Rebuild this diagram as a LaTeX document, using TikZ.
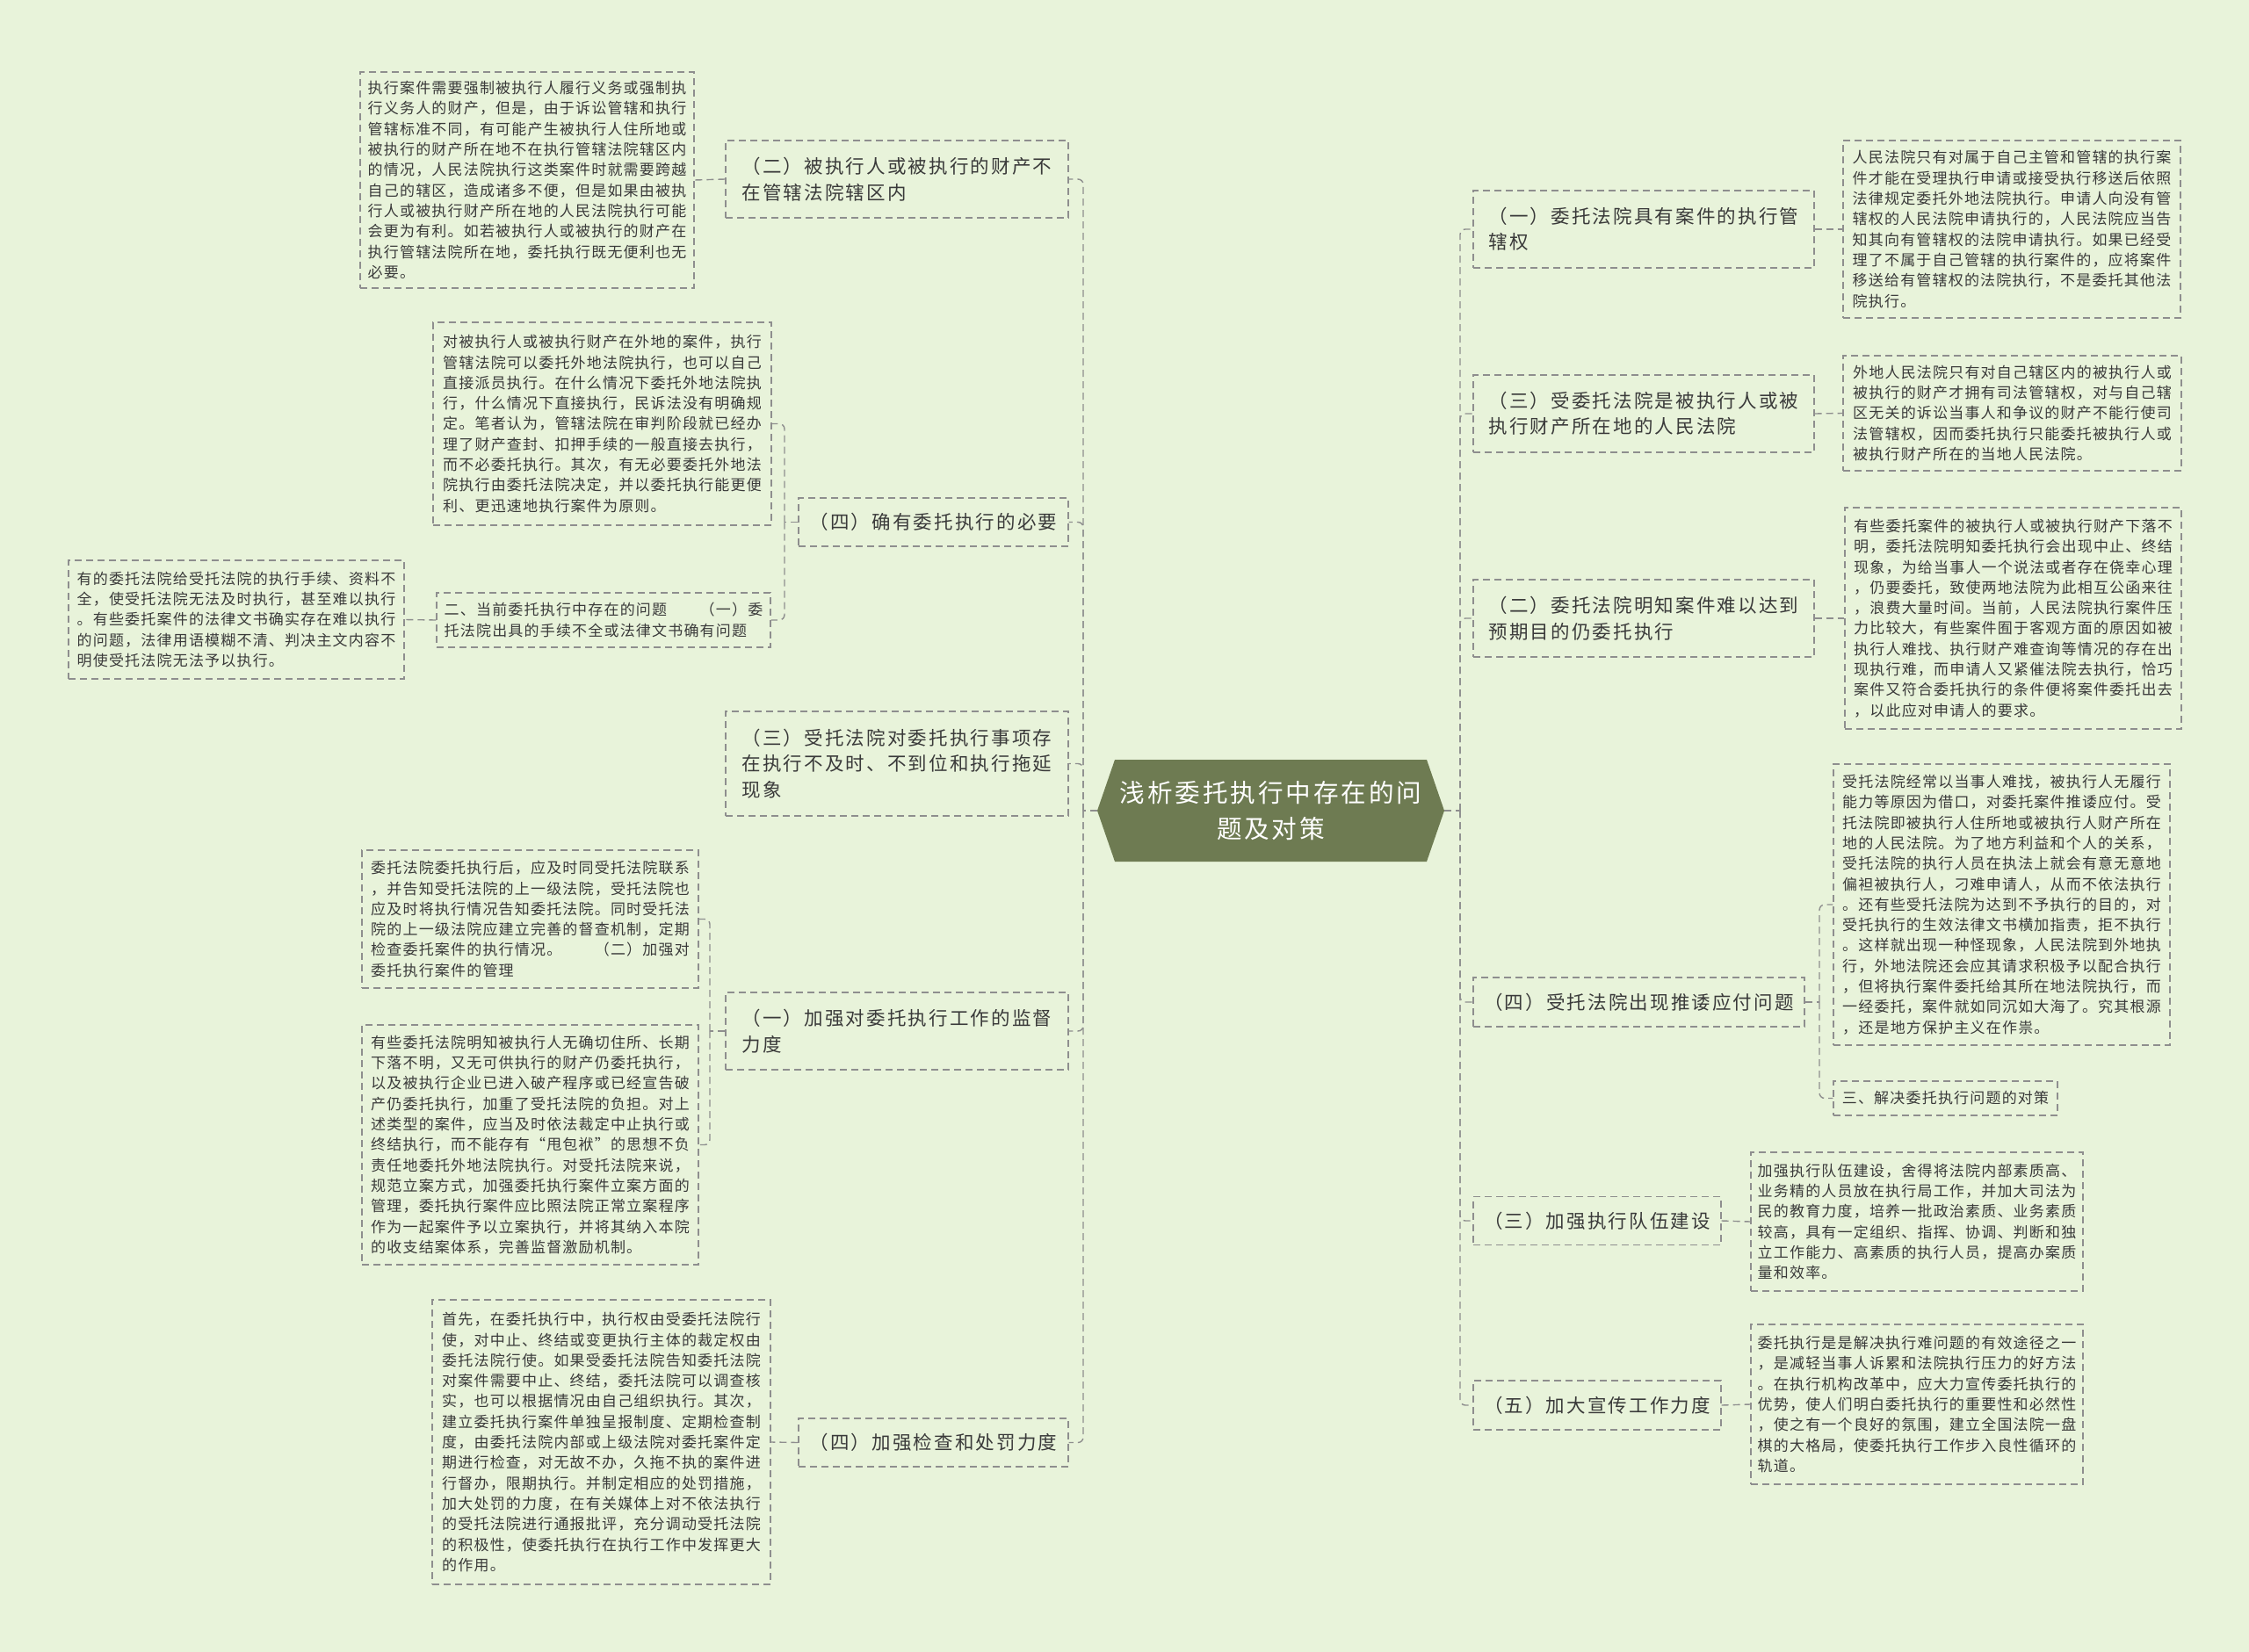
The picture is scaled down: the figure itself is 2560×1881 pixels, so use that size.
\documentclass[tikz,border=0pt]{standalone}
\usepackage{fontspec}
\newfontfamily\cjk[LetterSpace=10]{Noto Sans CJK SC}
\newfontfamily\cjkleaf[LetterSpace=7]{Noto Sans CJK SC}
\definecolor{bg}{HTML}{E8F3DA}
\definecolor{boxline}{HTML}{8E8E8E}
\definecolor{txt}{HTML}{3A3A3A}
\definecolor{hubfill}{HTML}{6E7B52}
\tikzset{
  leafbox/.style={draw=boxline, dash pattern=on 8pt off 5pt, line width=1.4pt, align=left,
    text=txt, inner sep=0pt, font=\cjkleaf\fontsize{17}{23.3}\selectfont},
  mainbox/.style={draw=boxline, dash pattern=on 8pt off 5pt, line width=1.4pt, align=left,
    text=txt, inner sep=0pt, font=\cjk\fontsize{21.5}{29.4}\selectfont},
  link/.style={draw=boxline, dash pattern=on 8pt off 5pt, line width=1.4pt, rounded corners=6pt}
}
\begin{document}
\begin{tikzpicture}[x=1pt,y=-1pt]
\fill[bg] (0,0) rectangle (2560,1881);
\useasboundingbox (0,0) rectangle (2560,1881);
% hub
\fill[hubfill] (1269,865) -- (1624,865) -- (1644,923) -- (1624,981) -- (1269,981) -- (1249,923) -- cycle;
\node (hub) [minimum width=395pt, minimum height=116pt, inner sep=0pt, text=white, align=center,
  font=\cjk\fontsize{28.6}{41}\selectfont] at (1446.5,923) {浅析委托执行中存在的问\\题及对策};
% main branches left
\node (L1) [mainbox, minimum width=390pt, minimum height=88pt] at (1021,204) {（二）被执行人或被执行的财产不\\在管辖法院辖区内};
\node (L2) [mainbox, minimum width=307pt, minimum height=55pt] at (1062.5,594.5) {（四）确有委托执行的必要};
\node (L3) [mainbox, minimum width=390pt, minimum height=119pt] at (1021,869.5) {（三）受托法院对委托执行事项存\\在执行不及时、不到位和执行拖延\\现象};
\node (L4) [mainbox, minimum width=390pt, minimum height=88pt] at (1021,1174) {（一）加强对委托执行工作的监督\\力度};
\node (L5) [mainbox, minimum width=307pt, minimum height=55pt] at (1062.5,1642.5) {（四）加强检查和处罚力度};
% main branches right
\node (R1) [mainbox, minimum width=388pt, minimum height=88pt] at (1871,261) {（一）委托法院具有案件的执行管\\辖权};
\node (R2) [mainbox, minimum width=388pt, minimum height=88pt] at (1871,471) {（三）受委托法院是被执行人或被\\执行财产所在地的人民法院};
\node (R3) [mainbox, minimum width=388pt, minimum height=88pt] at (1871,704) {（二）委托法院明知案件难以达到\\预期目的仍委托执行};
\node (R4) [mainbox, minimum width=377pt, minimum height=56pt] at (1865.5,1141) {（四）受托法院出现推诿应付问题};
\node (R5) [mainbox, minimum width=282pt, minimum height=55pt] at (1818,1390) {（三）加强执行队伍建设};
\node (R6) [mainbox, minimum width=282pt, minimum height=56pt] at (1818,1600) {（五）加大宣传工作力度};
% leaves left
\node (A) [leafbox, minimum width=380pt, minimum height=246pt] at (600,205) {执行案件需要强制被执行人履行义务或强制执\\行义务人的财产，但是，由于诉讼管辖和执行\\管辖标准不同，有可能产生被执行人住所地或\\被执行的财产所在地不在执行管辖法院辖区内\\的情况，人民法院执行这类案件时就需要跨越\\自己的辖区，造成诸多不便，但是如果由被执\\行人或被执行财产所在地的人民法院执行可能\\会更为有利。如若被执行人或被执行的财产在\\执行管辖法院所在地，委托执行既无便利也无\\必要。};
\node (B) [leafbox, minimum width=385pt, minimum height=231pt] at (685.5,482.5) {对被执行人或被执行财产在外地的案件，执行\\管辖法院可以委托外地法院执行，也可以自己\\直接派员执行。在什么情况下委托外地法院执\\行，什么情况下直接执行，民诉法没有明确规\\定。笔者认为，管辖法院在审判阶段就已经办\\理了财产查封、扣押手续的一般直接去执行，\\而不必委托执行。其次，有无必要委托外地法\\院执行由委托法院决定，并以委托执行能更便\\利、更迅速地执行案件为原则。};
\node (C) [leafbox, minimum width=380pt, minimum height=62pt] at (687,706) {二、当前委托执行中存在的问题　　（一）委\\托法院出具的手续不全或法律文书确有问题};
\node (D) [leafbox, minimum width=382pt, minimum height=135pt] at (269,705.5) {有的委托法院给受托法院的执行手续、资料不\\全，使受托法院无法及时执行，甚至难以执行\\。有些委托案件的法律文书确实存在难以执行\\的问题，法律用语模糊不清、判决主文内容不\\明使受托法院无法予以执行。};
\node (E) [leafbox, minimum width=383pt, minimum height=157pt] at (603.5,1046.5) {委托法院委托执行后，应及时同受托法院联系\\，并告知受托法院的上一级法院，受托法院也\\应及时将执行情况告知委托法院。同时受托法\\院的上一级法院应建立完善的督查机制，定期\\检查委托案件的执行情况。　　（二）加强对\\委托执行案件的管理};
\node (F) [leafbox, minimum width=383pt, minimum height=273pt] at (603.5,1303.5) {有些委托法院明知被执行人无确切住所、长期\\下落不明，又无可供执行的财产仍委托执行，\\以及被执行企业已进入破产程序或已经宣告破\\产仍委托执行，加重了受托法院的负担。对上\\述类型的案件，应当及时依法裁定中止执行或\\终结执行，而不能存有“甩包袱”的思想不负\\责任地委托外地法院执行。对受托法院来说，\\规范立案方式，加强委托执行案件立案方面的\\管理，委托执行案件应比照法院正常立案程序\\作为一起案件予以立案执行，并将其纳入本院\\的收支结案体系，完善监督激励机制。};
\node (G) [leafbox, minimum width=385pt, minimum height=324pt] at (684.5,1642) {首先，在委托执行中，执行权由受委托法院行\\使，对中止、终结或变更执行主体的裁定权由\\委托法院行使。如果受委托法院告知委托法院\\对案件需要中止、终结，委托法院可以调查核\\实，也可以根据情况由自己组织执行。其次，\\建立委托执行案件单独呈报制度、定期检查制\\度，由委托法院内部或上级法院对委托案件定\\期进行检查，对无故不办，久拖不执的案件进\\行督办，限期执行。并制定相应的处罚措施，\\加大处罚的力度，在有关媒体上对不依法执行\\的受托法院进行通报批评，充分调动受托法院\\的积极性，使委托执行在执行工作中发挥更大\\的作用。};
% leaves right
\node (H) [leafbox, minimum width=384pt, minimum height=202pt] at (2290,261) {人民法院只有对属于自己主管和管辖的执行案\\件才能在受理执行申请或接受执行移送后依照\\法律规定委托外地法院执行。申请人向没有管\\辖权的人民法院申请执行的，人民法院应当告\\知其向有管辖权的法院申请执行。如果已经受\\理了不属于自己管辖的执行案件的，应将案件\\移送给有管辖权的法院执行，不是委托其他法\\院执行。};
\node (I) [leafbox, minimum width=385pt, minimum height=131pt] at (2290.5,470.5) {外地人民法院只有对自己辖区内的被执行人或\\被执行的财产才拥有司法管辖权，对与自己辖\\区无关的诉讼当事人和争议的财产不能行使司\\法管辖权，因而委托执行只能委托被执行人或\\被执行财产所在的当地人民法院。};
\node (J) [leafbox, minimum width=383pt, minimum height=252pt] at (2291.5,704) {有些委托案件的被执行人或被执行财产下落不\\明，委托法院明知委托执行会出现中止、终结\\现象，为给当事人一个说法或者存在侥幸心理\\，仍要委托，致使两地法院为此相互公函来往\\，浪费大量时间。当前，人民法院执行案件压\\力比较大，有些案件囿于客观方面的原因如被\\执行人难找、执行财产难查询等情况的存在出\\现执行难，而申请人又紧催法院去执行，恰巧\\案件又符合委托执行的条件便将案件委托出去\\，以此应对申请人的要求。};
\node (K) [leafbox, minimum width=383pt, minimum height=320pt] at (2278.5,1030) {受托法院经常以当事人难找，被执行人无履行\\能力等原因为借口，对委托案件推诿应付。受\\托法院即被执行人住所地或被执行人财产所在\\地的人民法院。为了地方利益和个人的关系，\\受托法院的执行人员在执法上就会有意无意地\\偏袒被执行人，刁难申请人，从而不依法执行\\。还有些受托法院为达到不予执行的目的，对\\受托执行的生效法律文书横加指责，拒不执行\\。这样就出现一种怪现象，人民法院到外地执\\行，外地法院还会应其请求积极予以配合执行\\，但将执行案件委托给其所在地法院执行，而\\一经委托，案件就如同沉如大海了。究其根源\\，还是地方保护主义在作祟。};
\node (Lf) [leafbox, minimum width=255pt, minimum height=39pt] at (2214.5,1250.5) {三、解决委托执行问题的对策};
\node (M) [leafbox, minimum width=378pt, minimum height=158pt] at (2182,1391) {加强执行队伍建设，舍得将法院内部素质高、\\业务精的人员放在执行局工作，并加大司法为\\民的教育力度，培养一批政治素质、业务素质\\较高，具有一定组织、指挥、协调、判断和独\\立工作能力、高素质的执行人员，提高办案质\\量和效率。};
\node (N) [leafbox, minimum width=378pt, minimum height=182pt] at (2182,1599) {委托执行是是解决执行难问题的有效途径之一\\，是减轻当事人诉累和法院执行压力的好方法\\。在执行机构改革中，应大力宣传委托执行的\\优势，使人们明白委托执行的重要性和必然性\\，使之有一个良好的氛围，建立全国法院一盘\\棋的大格局，使委托执行工作步入良性循环的\\轨道。};
% trunk coordinates
\coordinate (lt) at (1233,923);
\coordinate (rt) at (1662,923);
\coordinate (l2t) at (893,594.5);
\coordinate (l4t) at (808,1174);
\coordinate (r4t) at (2071,1141);
% connectors
\draw[link] (hub.west) -- (lt);
\draw[link] (hub.east) -- (rt);
\foreach \n in {L1,L2,L3,L4,L5} { \draw[link] (lt) |- (\n.east); }
\foreach \n in {R1,R2,R3,R4,R5,R6} { \draw[link] (rt) |- (\n.west); }
\draw[link] (L1.west) -- (A.east);
\draw[link] (L2.west) -- (l2t);
\draw[link] (l2t) |- (B.east);
\draw[link] (l2t) |- (C.east);
\draw[link] (C.west) -- (D.east);
\draw[link] (L4.west) -- (l4t);
\draw[link] (l4t) |- (E.east);
\draw[link] (l4t) |- (F.east);
\draw[link] (L5.west) -- (G.east);
\draw[link] (R1.east) -- (H.west);
\draw[link] (R2.east) -- (I.west);
\draw[link] (R3.east) -- (J.west);
\draw[link] (R4.east) -- (r4t);
\draw[link] (r4t) |- (K.west);
\draw[link] (r4t) |- (Lf.west);
\draw[link] (R5.east) -- (M.west);
\draw[link] (R6.east) -- (N.west);
\end{tikzpicture}
\end{document}
